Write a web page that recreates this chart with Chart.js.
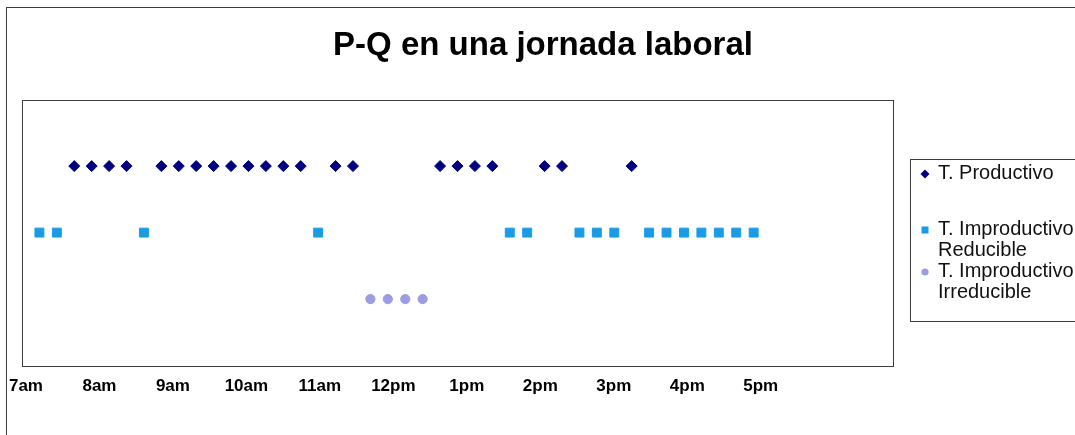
<!DOCTYPE html>
<html lang="es">
<head>
<meta charset="utf-8">
<title>P-Q en una jornada laboral</title>
<script src="https://cdn.jsdelivr.net/npm/chart.js@4.4.1/dist/chart.umd.min.js"></script>
<style>
  html, body { margin: 0; padding: 0; background: #fff; }
  #wrap { width: 1075px; height: 435px; position: relative; }
</style>
</head>
<body>
<div id="wrap"><canvas id="pq" width="1075" height="435"></canvas></div>
<script>
// Time of day (decimal hours) of each quarter-hour observation, by category
const productivo = [7.75, 8, 8.25, 8.5, 9, 9.25, 9.5, 9.75, 10, 10.25, 10.5, 10.75, 11,
                    11.5, 11.75, 13, 13.25, 13.5, 13.75, 14.5, 14.75, 15.75];
const improdReducible = [7.25, 7.5, 8.75, 11.25, 14, 14.25, 15, 15.25, 15.5,
                         16, 16.25, 16.5, 16.75, 17, 17.25, 17.5];
const improdIrreducible = [12, 12.25, 12.5, 12.75];

// Row of each category on the vertical axis
const levels = [3, 2, 1];

// Series names (legend lines)
const seriesNames = [
  ['T. Productivo'],
  ['T. Improductivo', 'Reducible'],
  ['T. Improductivo', 'Irreducible']
];

// Hour labels under the plot
const hourLabels = ['7am', '8am', '9am', '10am', '11am', '12pm', '1pm', '2pm', '3pm', '4pm', '5pm'];

const FONT = '"Liberation Sans", Arial, Helvetica, sans-serif';
const seriesColors = ['#000080', '#1a9be6', '#9c9ce4'];
const seriesShapes = ['rectRot', 'rect', 'circle'];
const seriesRadius = [5.5, 6.3, 4.6];

const seriesData = [productivo, improdReducible, improdIrreducible];

const datasets = seriesData.map((hrs, i) => ({
  label: seriesNames[i].join(' '),
  data: hrs.map(h => ({ x: h, y: levels[i] })),
  pointStyle: seriesShapes[i],
  pointRadius: seriesRadius[i],
  pointHoverRadius: seriesRadius[i],
  backgroundColor: seriesColors[i],
  borderColor: seriesColors[i],
  borderWidth: 1,
  xAxisID: 'x',
  yAxisID: 'y'
}));

// Outer frame, plot frame and the boxed legend
const framesAndLegend = {
  id: 'framesAndLegend',
  beforeDraw(chart) {
    const { ctx, chartArea: a } = chart;
    ctx.save();
    ctx.fillStyle = '#ffffff';
    ctx.fillRect(0, 0, chart.width, chart.height);
    ctx.strokeStyle = '#3c3c3c';
    ctx.lineWidth = 1;
    ctx.strokeRect(6.5, 7.5, chart.width + 20, chart.height + 20);
    ctx.strokeRect(Math.round(a.left) + 0.5, Math.round(a.top) + 0.5,
                   Math.round(a.right - a.left), Math.round(a.bottom - a.top));
    ctx.restore();
  },
  afterDraw(chart) {
    const ctx = chart.ctx;
    const box = { x: 910.5, y: 159.5, w: 220, h: 162 };
    ctx.save();
    ctx.fillStyle = '#ffffff';
    ctx.fillRect(box.x, box.y, box.w, box.h);
    ctx.strokeStyle = '#3c3c3c';
    ctx.lineWidth = 1;
    ctx.strokeRect(box.x, box.y, box.w, box.h);

    const rows = [[173], [229, 250], [271, 292]];
    const markerX = 925;
    const textX = 938;
    ctx.font = '20px ' + FONT;
    ctx.textBaseline = 'middle';
    ctx.textAlign = 'left';
    chart.data.datasets.forEach((ds, i) => {
      const ys = rows[i];
      const my = ys[0] + 1;
      ctx.fillStyle = ds.backgroundColor;
      ctx.beginPath();
      if (ds.pointStyle === 'rectRot') {
        const r = 4.5;
        ctx.moveTo(markerX - r, my); ctx.lineTo(markerX, my - r);
        ctx.lineTo(markerX + r, my); ctx.lineTo(markerX, my + r);
        ctx.closePath();
      } else if (ds.pointStyle === 'rect') {
        ctx.rect(markerX - 3.5, my - 3.5, 7, 7);
      } else {
        ctx.arc(markerX, my, 3.6, 0, Math.PI * 2);
      }
      ctx.fill();
      ctx.fillStyle = '#111111';
      seriesNames[i].forEach((line, k) => ctx.fillText(line, textX, ys[k]));
    });
    ctx.restore();
  }
};

new Chart(document.getElementById('pq'), {
  type: 'scatter',
  data: { datasets },
  options: {
    responsive: false,
    animation: false,
    events: [],
    layout: { padding: { left: 22, right: 11, top: 0, bottom: 27 } },
    plugins: {
      legend: { display: false },
      tooltip: { enabled: false },
      title: {
        display: true,
        text: 'P-Q en una jornada laboral',
        color: '#000000',
        font: { family: FONT, size: 33, weight: 'bold' },
        padding: { top: 26, bottom: 34 }
      }
    },
    scales: {
      x: {
        type: 'linear',
        display: false,
        min: 7,
        max: 19.5
      },
      hora: {
        type: 'linear',
        position: 'bottom',
        min: 6.946,
        max: 18.80,
        grid: { display: false, drawTicks: false },
        border: { display: false },
        afterBuildTicks(scale) {
          scale.ticks = hourLabels.map((_, i) => ({ value: 7 + i }));
        },
        afterFit(scale) {
          scale.paddingLeft = 0;
          scale.paddingRight = 0;
        },
        ticks: {
          autoSkip: false,
          maxRotation: 0,
          padding: 11,
          color: '#000000',
          font: { family: FONT, size: 17, weight: 'bold' },
          callback: (v, i) => hourLabels[i]
        }
      },
      y: {
        type: 'linear',
        position: 'right',
        min: 0,
        max: 4,
        display: true,
        grid: { display: false, drawTicks: false },
        border: { display: false },
        ticks: { display: false },
        afterFit(scale) { scale.width = 171; }
      }
    }
  },
  plugins: [framesAndLegend]
});
</script>
</body>
</html>
